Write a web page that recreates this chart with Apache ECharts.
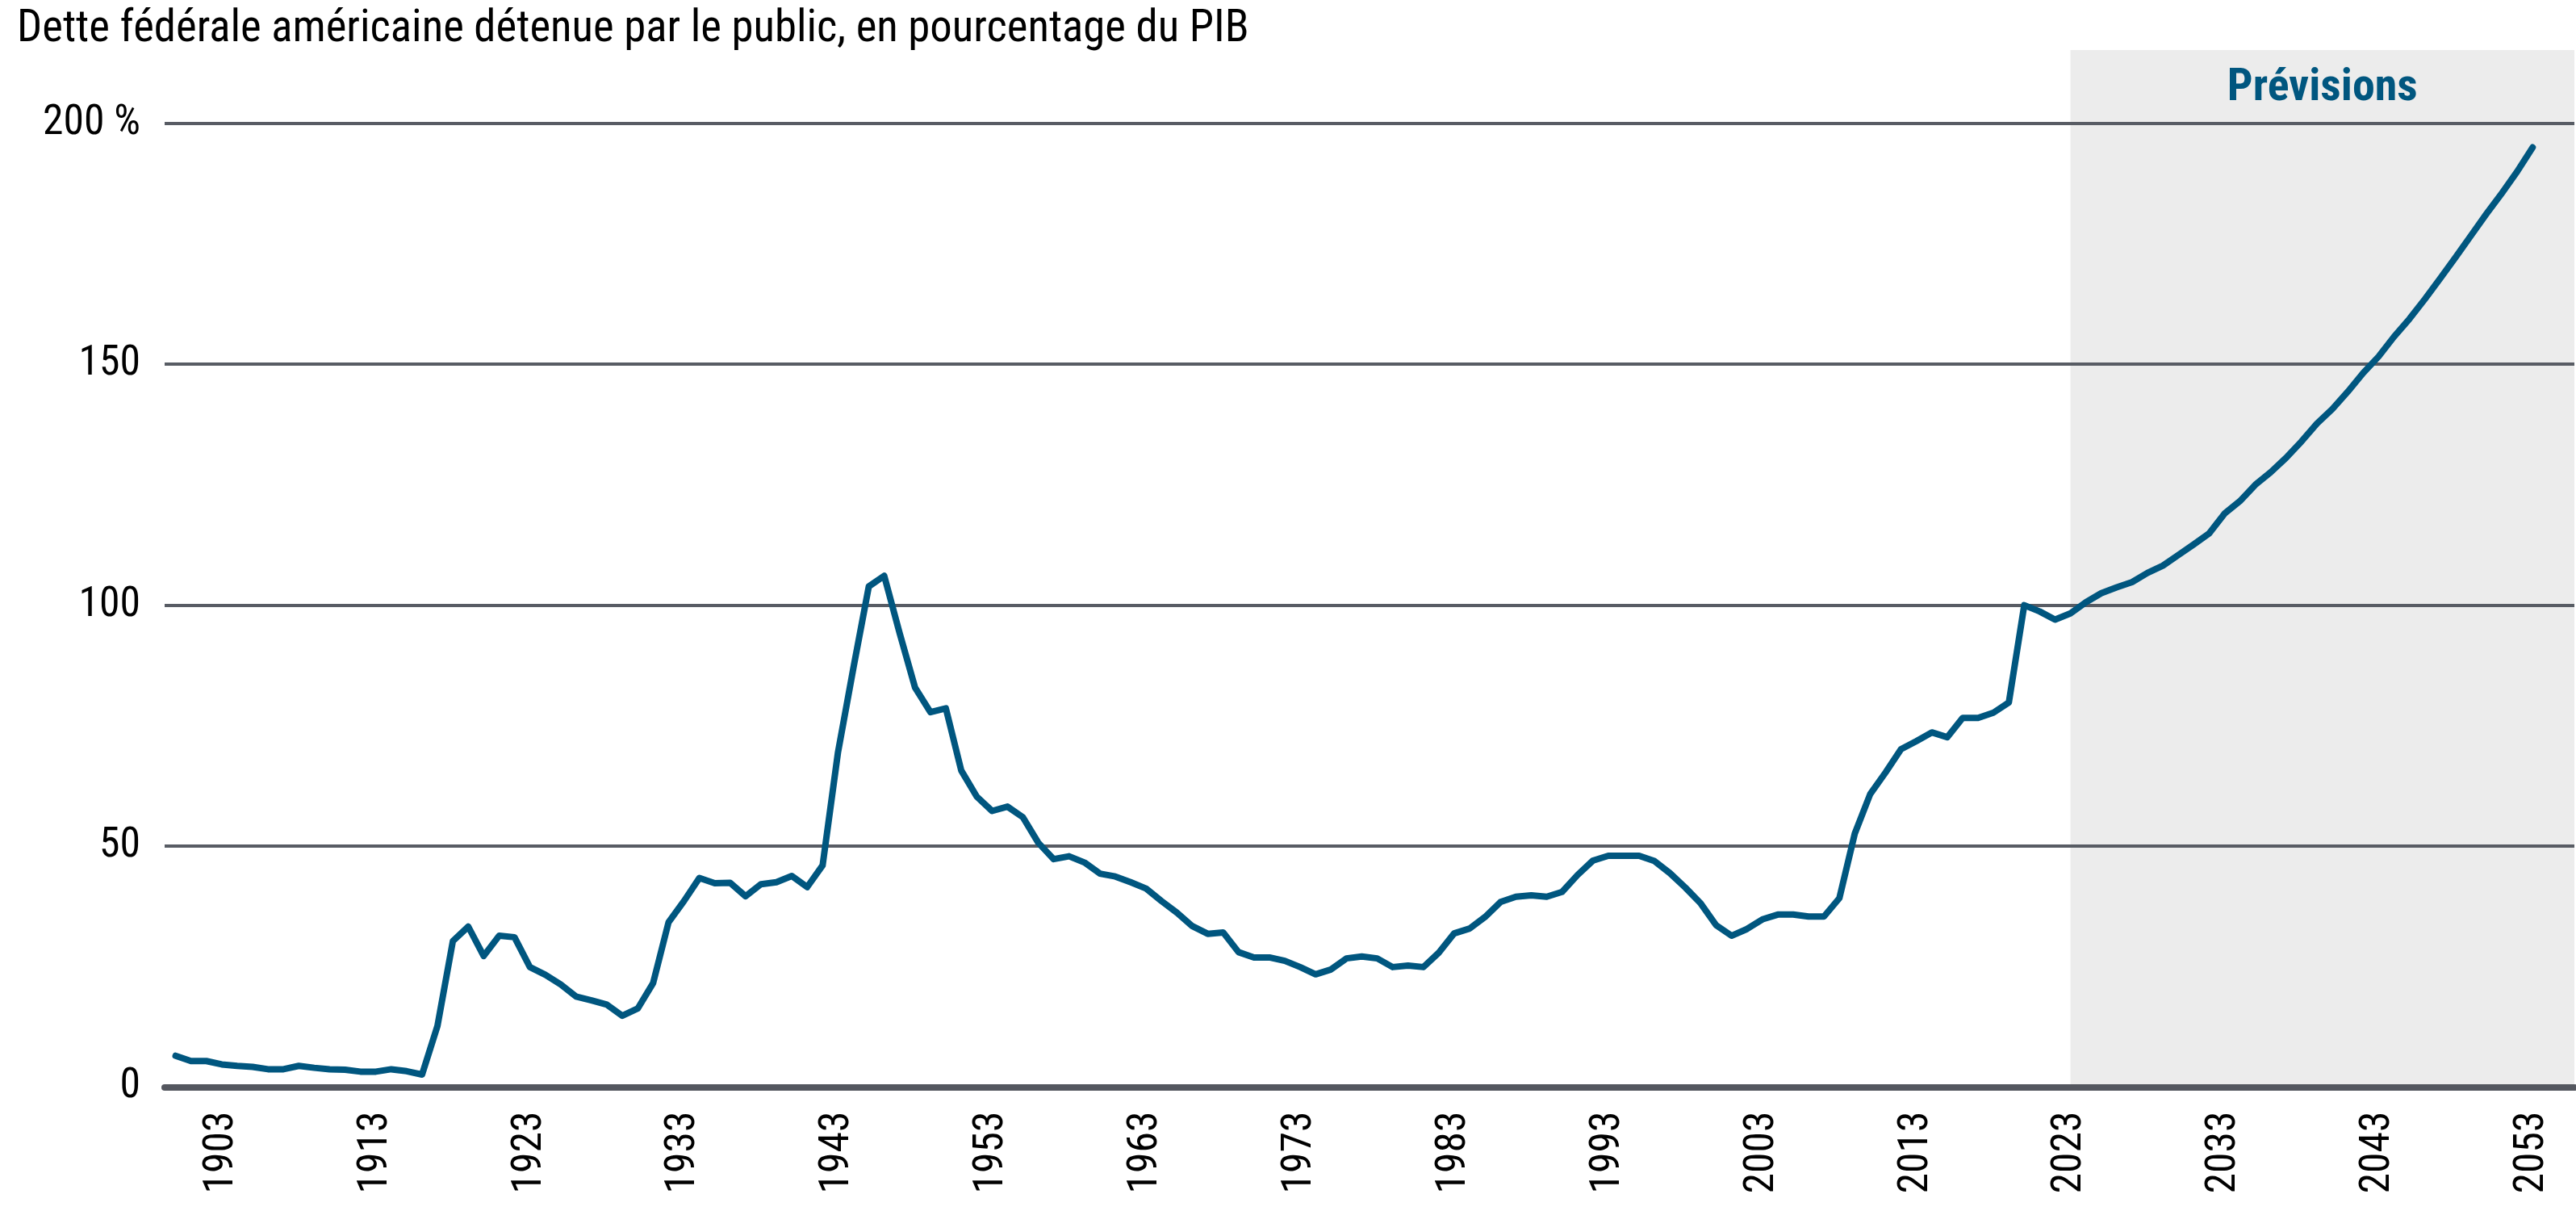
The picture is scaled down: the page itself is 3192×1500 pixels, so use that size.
<!DOCTYPE html>
<html><head><meta charset="utf-8">
<script src="https://cdn.jsdelivr.net/npm/echarts@6/dist/echarts.min.js"></script>
<style>html,body{margin:0;padding:0;background:#fff}#c{width:3192px;height:1500px}</style>
</head><body><div id="c"></div>
<script>
// ---------- DATA ----------
const chartTitle = 'Dette fédérale américaine détenue par le public, en pourcentage du PIB';
const forecastLabel = 'Prévisions';
const firstYear = 1900;
// Historical, 1900–2022 (% of GDP)
const historical = [
  6.5, 5.4, 5.4, 4.7, 4.4, 4.2, 3.7, 3.7, 4.4, 4.0,      // 1900-1909
  3.7, 3.6, 3.2, 3.2, 3.7, 3.3, 2.6, 12.7, 30.3, 33.3,   // 1910-1919
  27.2, 31.4, 31.1, 24.9, 23.3, 21.3, 18.8, 18.0, 17.1, 14.8, // 1920-1929
  16.3, 21.6, 34.2, 38.6, 43.4, 42.3, 42.4, 39.6, 42.1, 42.5, // 1930-1939
  43.8, 41.5, 46.0, 69.5, 87.0, 103.9, 106.1, 94.2, 82.9, 77.8, // 1940-1949
  78.6, 65.7, 60.3, 57.3, 58.2, 56.0, 50.7, 47.3, 47.9, 46.6, // 1950-1959
  44.3, 43.7, 42.5, 41.2, 38.6, 36.2, 33.4, 31.8, 32.1, 28.0, // 1960-1969
  26.9, 26.9, 26.2, 24.9, 23.4, 24.4, 26.7, 27.1, 26.7, 24.9, // 1970-1979
  25.2, 24.9, 27.9, 31.9, 32.9, 35.3, 38.4, 39.5, 39.8, 39.5, // 1980-1989
  40.5, 44.0, 47.0, 48.0, 48.0, 48.0, 46.9, 44.4, 41.4, 38.1, // 1990-1999
  33.6, 31.4, 32.8, 34.8, 35.8, 35.8, 35.4, 35.4, 39.2, 52.6, // 2000-2009
  60.8, 65.3, 70.1, 71.8, 73.6, 72.6, 76.6, 76.6, 77.7, 79.8, // 2010-2019
  100.0, 98.7, 97.0                                            // 2020-2022
];
// Projections, 2023–2053
const projected = [
  98.3, 100.6, 102.5, 103.7, 104.8, 106.7, 108.2,              // 2023-2029
  110.4, 112.6, 114.9, 119.0, 121.6, 125.0, 127.6, 130.6, 134.0, 137.7, // 2030-2039
  140.7, 144.3, 148.2, 151.6, 155.7, 159.4, 163.5, 167.8, 172.2, 176.7, // 2040-2049
  181.2, 185.5, 190.0, 195.0                                   // 2050-2053
];
const forecastStart = 2023;
const yTickValues = [0, 50, 100, 150, 200];
const xTickYears = [1903, 1913, 1923, 1933, 1943, 1953, 1963, 1973, 1983, 1993, 2003, 2013, 2023, 2033, 2043, 2053];

// ---------- FONTS ----------
const mctx = document.createElement('canvas').getContext('2d');
function hasFont(f) {
  const s = 'abcdefghijklmnopqrstuvwxyz0123456789ABCDEF';
  for (const base of ['monospace', 'serif']) {
    mctx.font = '40px ' + base; const w0 = mctx.measureText(s).width;
    mctx.font = '40px "' + f + '", ' + base; const w1 = mctx.measureText(s).width;
    if (Math.abs(w0 - w1) > 0.01) return true;
  }
  return false;
}
const cands = ['Roboto Condensed', 'Liberation Sans Narrow', 'DejaVu Sans Condensed', 'Roboto'];
let fam = 'sans-serif';
for (const c of cands) { if (hasFont(c)) { fam = '"' + c + '"'; break; } }
function fit(text, weight, target) {
  mctx.font = weight + ' 100px ' + fam;
  return 100 * target / mctx.measureText(text).width;
}
const axisFs = fit('1903', 'normal', 102);
const titleFs = fit(chartTitle, 'normal', 1527);
const foreFs = fit(forecastLabel, 'bold', 236);

// ---------- CHART ----------
const years = historical.concat(projected).map((_, i) => firstYear + i);
const values = historical.concat(projected);
const seriesData = years.map((y, i) => [y, values[i]]);
const xMin = 1899.29, xMax = 2055.71, yMax = 215.2;
const lineColor = '#00567f';

const chart = echarts.init(document.getElementById('c'), null, { renderer: 'canvas' });
chart.setOption({
  animation: false,
  backgroundColor: '#ffffff',
  title: {
    text: chartTitle, left: 16, top: 12 - 0.13 * titleFs,
    textStyle: { fontFamily: fam, fontSize: titleFs, fontWeight: 'normal', color: '#000' }
  },
  grid: { left: 204, right: 2, top: 62, bottom: 153.5, containLabel: false },
  xAxis: {
    type: 'value', min: xMin, max: xMax, z: 2,
    axisLine: { show: true, onZero: false, lineStyle: { color: '#54575f', width: 8 } },
    axisTick: { show: false, customValues: xTickYears },
    splitLine: { show: false },
    axisLabel: {
      customValues: xTickYears, rotate: 90, margin: 30,
      fontFamily: fam, fontSize: axisFs, color: '#000',
      formatter: v => String(v)
    }
  },
  yAxis: {
    type: 'value', min: 0, max: yMax, z: 2,
    axisLine: { show: false },
    axisTick: { show: false, customValues: yTickValues },
    splitLine: { show: true, lineStyle: { color: '#585c64', width: 4 } },
    axisLabel: {
      customValues: yTickValues, margin: 30,
      fontFamily: fam, fontSize: axisFs, color: '#000',
      formatter: v => (v === 200 ? '200 %' : String(v))
    }
  },
  series: [{
    type: 'line', z: 3, data: seriesData, showSymbol: false, clip: false,
    lineStyle: { color: lineColor, width: 8, cap: 'round', join: 'round' },
    markArea: {
      silent: true, z: 1,
      itemStyle: { color: '#ececec' },
      label: {
        show: true, position: 'insideTop', distance: 89 - 62 - 0.13 * foreFs,
        formatter: forecastLabel,
        fontFamily: fam, fontWeight: 'bold', fontSize: foreFs, color: lineColor
      },
      data: [[{ xAxis: forecastStart }, { xAxis: xMax }]]
    }
  }]
});
</script></body></html>
